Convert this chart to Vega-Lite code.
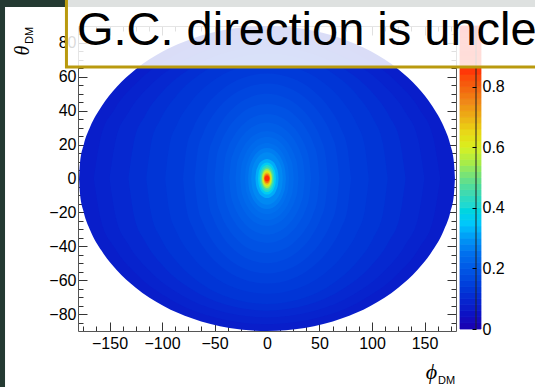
{
  "$schema": "https://vega.github.io/schema/vega-lite/v6.json",
  "width": 378,
  "height": 305,
  "autosize": {"type": "none"},
  "padding": {"left": 78, "top": 26, "right": 79, "bottom": 56},
  "background": "white",
  "config": {
    "view": {"stroke": null},
    "axis": {
      "grid": false,
      "domainColor": "#555555",
      "domainWidth": 1,
      "tickColor": "#333333",
      "tickWidth": 1,
      "labelFont": "Liberation Sans",
      "labelFontSize": 16,
      "labelColor": "#000000",
      "titleFontWeight": "normal",
      "titleColor": "#000000",
      "labelOverlap": false,
      "labelFlush": false
    }
  },
  "resolve": {"scale": {"y": "independent"}, "axis": {"x": "independent", "y": "independent"}},
  "layer": [
    {
      "data": {"values": [{}]},
      "mark": {"type": "rect", "fill": "#243a32"},
      "encoding": {
        "x": {"datum": -283, "type": "quantitative", "scale": {"domain": [-180, 180], "nice": false, "zero": false}, "axis": null},
        "x2": {"datum": -249.5},
        "y": {"datum": 125, "type": "quantitative", "scale": {"domain": [-90, 90], "nice": false, "zero": false}, "axis": null},
        "y2": {"datum": -143}
      }
    },
    {
      "data": {"values": [{}]},
      "mark": {"type": "rect", "fill": "#243a32"},
      "encoding": {
        "x": {"datum": -283, "type": "quantitative", "scale": {"domain": [-180, 180], "nice": false, "zero": false}, "axis": null},
        "x2": {"datum": 280},
        "y": {"datum": 101.2, "type": "quantitative", "scale": {"domain": [-90, 90], "nice": false, "zero": false}, "axis": null},
        "y2": {"datum": 125}
      }
    },
    {
      "data": {"values": [
        {"k":"K01","v":0.075,"p":-179,"hi":0,"lo":0},
        {"k":"K01","v":0.075,"p":-178.1,"hi":9,"lo":-9},
        {"k":"K01","v":0.075,"p":-174.5,"hi":20,"lo":-20},
        {"k":"K01","v":0.075,"p":-168.3,"hi":30.7,"lo":-30.7},
        {"k":"K01","v":0.075,"p":-157.5,"hi":42.7,"lo":-42.7},
        {"k":"K01","v":0.075,"p":-143.2,"hi":54,"lo":-54},
        {"k":"K01","v":0.075,"p":-125.3,"hi":64.3,"lo":-64.3},
        {"k":"K01","v":0.075,"p":-98.5,"hi":75.2,"lo":-75.2},
        {"k":"K01","v":0.075,"p":-71.6,"hi":82.5,"lo":-82.5},
        {"k":"K01","v":0.075,"p":-35.8,"hi":88.2,"lo":-88.2},
        {"k":"K01","v":0.075,"p":0,"hi":90,"lo":-90},
        {"k":"K01","v":0.075,"p":35.8,"hi":88.2,"lo":-88.2},
        {"k":"K01","v":0.075,"p":71.6,"hi":82.5,"lo":-82.5},
        {"k":"K01","v":0.075,"p":98.5,"hi":75.2,"lo":-75.2},
        {"k":"K01","v":0.075,"p":125.3,"hi":64.3,"lo":-64.3},
        {"k":"K01","v":0.075,"p":143.2,"hi":54,"lo":-54},
        {"k":"K01","v":0.075,"p":157.5,"hi":42.7,"lo":-42.7},
        {"k":"K01","v":0.075,"p":168.3,"hi":30.7,"lo":-30.7},
        {"k":"K01","v":0.075,"p":174.5,"hi":20,"lo":-20},
        {"k":"K01","v":0.075,"p":178.1,"hi":9,"lo":-9},
        {"k":"K01","v":0.075,"p":179,"hi":0,"lo":0},

        {"k":"K02","v":0.0875,"p":-165,"hi":0,"lo":0},
        {"k":"K02","v":0.0875,"p":-158.4,"hi":24.1,"lo":-24.1},
        {"k":"K02","v":0.0875,"p":-145.2,"hi":40.9,"lo":-40.9},
        {"k":"K02","v":0.0875,"p":-123.75,"hi":56.8,"lo":-56.8},
        {"k":"K02","v":0.0875,"p":-90.75,"hi":71.8,"lo":-71.8},
        {"k":"K02","v":0.0875,"p":-49.5,"hi":82,"lo":-82},
        {"k":"K02","v":0.0875,"p":0,"hi":86,"lo":-86},
        {"k":"K02","v":0.0875,"p":49.5,"hi":82,"lo":-82},
        {"k":"K02","v":0.0875,"p":90.75,"hi":71.8,"lo":-71.8},
        {"k":"K02","v":0.0875,"p":123.75,"hi":56.8,"lo":-56.8},
        {"k":"K02","v":0.0875,"p":145.2,"hi":40.9,"lo":-40.9},
        {"k":"K02","v":0.0875,"p":158.4,"hi":24.1,"lo":-24.1},
        {"k":"K02","v":0.0875,"p":165,"hi":0,"lo":0},

        {"k":"K03","v":0.1,"p":-150,"hi":0,"lo":0},
        {"k":"K03","v":0.1,"p":-144,"hi":23,"lo":-23},
        {"k":"K03","v":0.1,"p":-132,"hi":39,"lo":-39},
        {"k":"K03","v":0.1,"p":-112.5,"hi":54.2,"lo":-54.2},
        {"k":"K03","v":0.1,"p":-82.5,"hi":68.5,"lo":-68.5},
        {"k":"K03","v":0.1,"p":-45,"hi":78.2,"lo":-78.2},
        {"k":"K03","v":0.1,"p":0,"hi":82,"lo":-82},
        {"k":"K03","v":0.1,"p":45,"hi":78.2,"lo":-78.2},
        {"k":"K03","v":0.1,"p":82.5,"hi":68.5,"lo":-68.5},
        {"k":"K03","v":0.1,"p":112.5,"hi":54.2,"lo":-54.2},
        {"k":"K03","v":0.1,"p":132,"hi":39,"lo":-39},
        {"k":"K03","v":0.1,"p":144,"hi":23,"lo":-23},
        {"k":"K03","v":0.1,"p":150,"hi":0,"lo":0},

        {"k":"K04","v":0.1125,"p":-132,"hi":0,"lo":0},
        {"k":"K04","v":0.1125,"p":-126.7,"hi":21.8,"lo":-21.8},
        {"k":"K04","v":0.1125,"p":-116.2,"hi":37.1,"lo":-37.1},
        {"k":"K04","v":0.1125,"p":-99,"hi":51.6,"lo":-51.6},
        {"k":"K04","v":0.1125,"p":-72.6,"hi":65.1,"lo":-65.1},
        {"k":"K04","v":0.1125,"p":-39.6,"hi":74.4,"lo":-74.4},
        {"k":"K04","v":0.1125,"p":0,"hi":78,"lo":-78},
        {"k":"K04","v":0.1125,"p":39.6,"hi":74.4,"lo":-74.4},
        {"k":"K04","v":0.1125,"p":72.6,"hi":65.1,"lo":-65.1},
        {"k":"K04","v":0.1125,"p":99,"hi":51.6,"lo":-51.6},
        {"k":"K04","v":0.1125,"p":116.2,"hi":37.1,"lo":-37.1},
        {"k":"K04","v":0.1125,"p":126.7,"hi":21.8,"lo":-21.8},
        {"k":"K04","v":0.1125,"p":132,"hi":0,"lo":0},

        {"k":"K05","v":0.125,"p":-115,"hi":0,"lo":0},
        {"k":"K05","v":0.125,"p":-110.4,"hi":20.7,"lo":-20.7},
        {"k":"K05","v":0.125,"p":-101.2,"hi":35.2,"lo":-35.2},
        {"k":"K05","v":0.125,"p":-86.3,"hi":48.9,"lo":-48.9},
        {"k":"K05","v":0.125,"p":-63.3,"hi":61.8,"lo":-61.8},
        {"k":"K05","v":0.125,"p":-34.5,"hi":70.6,"lo":-70.6},
        {"k":"K05","v":0.125,"p":0,"hi":74,"lo":-74},
        {"k":"K05","v":0.125,"p":34.5,"hi":70.6,"lo":-70.6},
        {"k":"K05","v":0.125,"p":63.3,"hi":61.8,"lo":-61.8},
        {"k":"K05","v":0.125,"p":86.3,"hi":48.9,"lo":-48.9},
        {"k":"K05","v":0.125,"p":101.2,"hi":35.2,"lo":-35.2},
        {"k":"K05","v":0.125,"p":110.4,"hi":20.7,"lo":-20.7},
        {"k":"K05","v":0.125,"p":115,"hi":0,"lo":0},

        {"k":"K06","v":0.1375,"p":-97,"hi":0,"lo":0},
        {"k":"K06","v":0.1375,"p":-93.1,"hi":19,"lo":-19},
        {"k":"K06","v":0.1375,"p":-85.4,"hi":32.3,"lo":-32.3},
        {"k":"K06","v":0.1375,"p":-72.75,"hi":44.9,"lo":-44.9},
        {"k":"K06","v":0.1375,"p":-53.35,"hi":56.8,"lo":-56.8},
        {"k":"K06","v":0.1375,"p":-29.1,"hi":64.9,"lo":-64.9},
        {"k":"K06","v":0.1375,"p":0,"hi":68,"lo":-68},
        {"k":"K06","v":0.1375,"p":29.1,"hi":64.9,"lo":-64.9},
        {"k":"K06","v":0.1375,"p":53.35,"hi":56.8,"lo":-56.8},
        {"k":"K06","v":0.1375,"p":72.75,"hi":44.9,"lo":-44.9},
        {"k":"K06","v":0.1375,"p":85.4,"hi":32.3,"lo":-32.3},
        {"k":"K06","v":0.1375,"p":93.1,"hi":19,"lo":-19},
        {"k":"K06","v":0.1375,"p":97,"hi":0,"lo":0},

        {"k":"K07","v":0.15,"p":-80,"hi":0,"lo":0},
        {"k":"K07","v":0.15,"p":-76.8,"hi":17.4,"lo":-17.4},
        {"k":"K07","v":0.15,"p":-70.4,"hi":29.5,"lo":-29.5},
        {"k":"K07","v":0.15,"p":-60,"hi":41,"lo":-41},
        {"k":"K07","v":0.15,"p":-44,"hi":51.8,"lo":-51.8},
        {"k":"K07","v":0.15,"p":-24,"hi":59.1,"lo":-59.1},
        {"k":"K07","v":0.15,"p":0,"hi":62,"lo":-62},
        {"k":"K07","v":0.15,"p":24,"hi":59.1,"lo":-59.1},
        {"k":"K07","v":0.15,"p":44,"hi":51.8,"lo":-51.8},
        {"k":"K07","v":0.15,"p":60,"hi":41,"lo":-41},
        {"k":"K07","v":0.15,"p":70.4,"hi":29.5,"lo":-29.5},
        {"k":"K07","v":0.15,"p":76.8,"hi":17.4,"lo":-17.4},
        {"k":"K07","v":0.15,"p":80,"hi":0,"lo":0},

        {"k":"K08","v":0.1625,"p":-69,"hi":0,"lo":0},
        {"k":"K08","v":0.1625,"p":-66.2,"hi":15.7,"lo":-15.7},
        {"k":"K08","v":0.1625,"p":-60.7,"hi":26.6,"lo":-26.6},
        {"k":"K08","v":0.1625,"p":-51.75,"hi":37,"lo":-37},
        {"k":"K08","v":0.1625,"p":-37.95,"hi":46.8,"lo":-46.8},
        {"k":"K08","v":0.1625,"p":-20.7,"hi":53.4,"lo":-53.4},
        {"k":"K08","v":0.1625,"p":0,"hi":56,"lo":-56},
        {"k":"K08","v":0.1625,"p":20.7,"hi":53.4,"lo":-53.4},
        {"k":"K08","v":0.1625,"p":37.95,"hi":46.8,"lo":-46.8},
        {"k":"K08","v":0.1625,"p":51.75,"hi":37,"lo":-37},
        {"k":"K08","v":0.1625,"p":60.7,"hi":26.6,"lo":-26.6},
        {"k":"K08","v":0.1625,"p":66.2,"hi":15.7,"lo":-15.7},
        {"k":"K08","v":0.1625,"p":69,"hi":0,"lo":0},

        {"k":"K09","v":0.175,"p":-58,"hi":0,"lo":0},
        {"k":"K09","v":0.175,"p":-55.7,"hi":14,"lo":-14},
        {"k":"K09","v":0.175,"p":-51,"hi":23.8,"lo":-23.8},
        {"k":"K09","v":0.175,"p":-43.5,"hi":33.1,"lo":-33.1},
        {"k":"K09","v":0.175,"p":-31.9,"hi":41.8,"lo":-41.8},
        {"k":"K09","v":0.175,"p":-17.4,"hi":47.7,"lo":-47.7},
        {"k":"K09","v":0.175,"p":0,"hi":50,"lo":-50},
        {"k":"K09","v":0.175,"p":17.4,"hi":47.7,"lo":-47.7},
        {"k":"K09","v":0.175,"p":31.9,"hi":41.8,"lo":-41.8},
        {"k":"K09","v":0.175,"p":43.5,"hi":33.1,"lo":-33.1},
        {"k":"K09","v":0.175,"p":51,"hi":23.8,"lo":-23.8},
        {"k":"K09","v":0.175,"p":55.7,"hi":14,"lo":-14},
        {"k":"K09","v":0.175,"p":58,"hi":0,"lo":0},

        {"k":"K10","v":0.1875,"p":-50,"hi":0,"lo":0},
        {"k":"K10","v":0.1875,"p":-48,"hi":12.3,"lo":-12.3},
        {"k":"K10","v":0.1875,"p":-44,"hi":20.9,"lo":-20.9},
        {"k":"K10","v":0.1875,"p":-37.5,"hi":29.1,"lo":-29.1},
        {"k":"K10","v":0.1875,"p":-27.5,"hi":36.7,"lo":-36.7},
        {"k":"K10","v":0.1875,"p":-15,"hi":42,"lo":-42},
        {"k":"K10","v":0.1875,"p":0,"hi":44,"lo":-44},
        {"k":"K10","v":0.1875,"p":15,"hi":42,"lo":-42},
        {"k":"K10","v":0.1875,"p":27.5,"hi":36.7,"lo":-36.7},
        {"k":"K10","v":0.1875,"p":37.5,"hi":29.1,"lo":-29.1},
        {"k":"K10","v":0.1875,"p":44,"hi":20.9,"lo":-20.9},
        {"k":"K10","v":0.1875,"p":48,"hi":12.3,"lo":-12.3},
        {"k":"K10","v":0.1875,"p":50,"hi":0,"lo":0},

        {"k":"K11","v":0.2,"p":-42,"hi":0,"lo":0},
        {"k":"K11","v":0.2,"p":-40.3,"hi":10.6,"lo":-10.6},
        {"k":"K11","v":0.2,"p":-37,"hi":18.1,"lo":-18.1},
        {"k":"K11","v":0.2,"p":-31.5,"hi":25.1,"lo":-25.1},
        {"k":"K11","v":0.2,"p":-23.1,"hi":31.7,"lo":-31.7},
        {"k":"K11","v":0.2,"p":-12.6,"hi":36.3,"lo":-36.3},
        {"k":"K11","v":0.2,"p":0,"hi":38,"lo":-38},
        {"k":"K11","v":0.2,"p":12.6,"hi":36.3,"lo":-36.3},
        {"k":"K11","v":0.2,"p":23.1,"hi":31.7,"lo":-31.7},
        {"k":"K11","v":0.2,"p":31.5,"hi":25.1,"lo":-25.1},
        {"k":"K11","v":0.2,"p":37,"hi":18.1,"lo":-18.1},
        {"k":"K11","v":0.2,"p":40.3,"hi":10.6,"lo":-10.6},
        {"k":"K11","v":0.2,"p":42,"hi":0,"lo":0},

        {"k":"K12","v":0.2125,"p":-36,"hi":0,"lo":0},
        {"k":"K12","v":0.2125,"p":-34.6,"hi":9.2,"lo":-9.2},
        {"k":"K12","v":0.2125,"p":-31.7,"hi":15.7,"lo":-15.7},
        {"k":"K12","v":0.2125,"p":-27,"hi":21.8,"lo":-21.8},
        {"k":"K12","v":0.2125,"p":-19.8,"hi":27.6,"lo":-27.6},
        {"k":"K12","v":0.2125,"p":-10.8,"hi":31.5,"lo":-31.5},
        {"k":"K12","v":0.2125,"p":0,"hi":33,"lo":-33},
        {"k":"K12","v":0.2125,"p":10.8,"hi":31.5,"lo":-31.5},
        {"k":"K12","v":0.2125,"p":19.8,"hi":27.6,"lo":-27.6},
        {"k":"K12","v":0.2125,"p":27,"hi":21.8,"lo":-21.8},
        {"k":"K12","v":0.2125,"p":31.7,"hi":15.7,"lo":-15.7},
        {"k":"K12","v":0.2125,"p":34.6,"hi":9.2,"lo":-9.2},
        {"k":"K12","v":0.2125,"p":36,"hi":0,"lo":0},

        {"k":"K13","v":0.225,"p":-30,"hi":0,"lo":0},
        {"k":"K13","v":0.225,"p":-28.8,"hi":7.8,"lo":-7.8},
        {"k":"K13","v":0.225,"p":-26.4,"hi":13.3,"lo":-13.3},
        {"k":"K13","v":0.225,"p":-22.5,"hi":18.5,"lo":-18.5},
        {"k":"K13","v":0.225,"p":-16.5,"hi":23.4,"lo":-23.4},
        {"k":"K13","v":0.225,"p":-9,"hi":26.7,"lo":-26.7},
        {"k":"K13","v":0.225,"p":0,"hi":28,"lo":-28},
        {"k":"K13","v":0.225,"p":9,"hi":26.7,"lo":-26.7},
        {"k":"K13","v":0.225,"p":16.5,"hi":23.4,"lo":-23.4},
        {"k":"K13","v":0.225,"p":22.5,"hi":18.5,"lo":-18.5},
        {"k":"K13","v":0.225,"p":26.4,"hi":13.3,"lo":-13.3},
        {"k":"K13","v":0.225,"p":28.8,"hi":7.8,"lo":-7.8},
        {"k":"K13","v":0.225,"p":30,"hi":0,"lo":0},

        {"k":"K14","v":0.2375,"p":-25.5,"hi":0,"lo":0},
        {"k":"K14","v":0.2375,"p":-24.5,"hi":6.9,"lo":-6.9},
        {"k":"K14","v":0.2375,"p":-22.4,"hi":11.6,"lo":-11.6},
        {"k":"K14","v":0.2375,"p":-19.1,"hi":16.2,"lo":-16.2},
        {"k":"K14","v":0.2375,"p":-14,"hi":20.5,"lo":-20.5},
        {"k":"K14","v":0.2375,"p":-7.65,"hi":23.4,"lo":-23.4},
        {"k":"K14","v":0.2375,"p":0,"hi":24.5,"lo":-24.5},
        {"k":"K14","v":0.2375,"p":7.65,"hi":23.4,"lo":-23.4},
        {"k":"K14","v":0.2375,"p":14,"hi":20.5,"lo":-20.5},
        {"k":"K14","v":0.2375,"p":19.1,"hi":16.2,"lo":-16.2},
        {"k":"K14","v":0.2375,"p":22.4,"hi":11.6,"lo":-11.6},
        {"k":"K14","v":0.2375,"p":24.5,"hi":6.9,"lo":-6.9},
        {"k":"K14","v":0.2375,"p":25.5,"hi":0,"lo":0},

        {"k":"K15","v":0.25,"p":-21,"hi":0,"lo":0},
        {"k":"K15","v":0.25,"p":-20.2,"hi":5.9,"lo":-5.9},
        {"k":"K15","v":0.25,"p":-18.5,"hi":10,"lo":-10},
        {"k":"K15","v":0.25,"p":-15.8,"hi":13.9,"lo":-13.9},
        {"k":"K15","v":0.25,"p":-11.6,"hi":17.5,"lo":-17.5},
        {"k":"K15","v":0.25,"p":-6.3,"hi":20,"lo":-20},
        {"k":"K15","v":0.25,"p":0,"hi":21,"lo":-21},
        {"k":"K15","v":0.25,"p":6.3,"hi":20,"lo":-20},
        {"k":"K15","v":0.25,"p":11.6,"hi":17.5,"lo":-17.5},
        {"k":"K15","v":0.25,"p":15.8,"hi":13.9,"lo":-13.9},
        {"k":"K15","v":0.25,"p":18.5,"hi":10,"lo":-10},
        {"k":"K15","v":0.25,"p":20.2,"hi":5.9,"lo":-5.9},
        {"k":"K15","v":0.25,"p":21,"hi":0,"lo":0},

        {"k":"K16","v":0.265,"p":-18,"hi":0,"lo":0},
        {"k":"K16","v":0.265,"p":-17.3,"hi":5,"lo":-5},
        {"k":"K16","v":0.265,"p":-15.8,"hi":8.6,"lo":-8.6},
        {"k":"K16","v":0.265,"p":-13.5,"hi":11.9,"lo":-11.9},
        {"k":"K16","v":0.265,"p":-9.9,"hi":15,"lo":-15},
        {"k":"K16","v":0.265,"p":-5.4,"hi":17.2,"lo":-17.2},
        {"k":"K16","v":0.265,"p":0,"hi":18,"lo":-18},
        {"k":"K16","v":0.265,"p":5.4,"hi":17.2,"lo":-17.2},
        {"k":"K16","v":0.265,"p":9.9,"hi":15,"lo":-15},
        {"k":"K16","v":0.265,"p":13.5,"hi":11.9,"lo":-11.9},
        {"k":"K16","v":0.265,"p":15.8,"hi":8.6,"lo":-8.6},
        {"k":"K16","v":0.265,"p":17.3,"hi":5,"lo":-5},
        {"k":"K16","v":0.265,"p":18,"hi":0,"lo":0},

        {"k":"K17","v":0.28,"p":-15,"hi":0,"lo":0},
        {"k":"K17","v":0.28,"p":-14.4,"hi":4.3,"lo":-4.3},
        {"k":"K17","v":0.28,"p":-13.2,"hi":7.4,"lo":-7.4},
        {"k":"K17","v":0.28,"p":-11.3,"hi":10.2,"lo":-10.2},
        {"k":"K17","v":0.28,"p":-8.3,"hi":12.9,"lo":-12.9},
        {"k":"K17","v":0.28,"p":-4.5,"hi":14.8,"lo":-14.8},
        {"k":"K17","v":0.28,"p":0,"hi":15.5,"lo":-15.5},
        {"k":"K17","v":0.28,"p":4.5,"hi":14.8,"lo":-14.8},
        {"k":"K17","v":0.28,"p":8.3,"hi":12.9,"lo":-12.9},
        {"k":"K17","v":0.28,"p":11.3,"hi":10.2,"lo":-10.2},
        {"k":"K17","v":0.28,"p":13.2,"hi":7.4,"lo":-7.4},
        {"k":"K17","v":0.28,"p":14.4,"hi":4.3,"lo":-4.3},
        {"k":"K17","v":0.28,"p":15,"hi":0,"lo":0},

        {"k":"K18","v":0.32,"p":-11,"hi":0,"lo":0},
        {"k":"K18","v":0.32,"p":-10.45,"hi":3.6,"lo":-3.6},
        {"k":"K18","v":0.32,"p":-8.8,"hi":6.9,"lo":-6.9},
        {"k":"K18","v":0.32,"p":-5.5,"hi":10,"lo":-10},
        {"k":"K18","v":0.32,"p":0,"hi":11.5,"lo":-11.5},
        {"k":"K18","v":0.32,"p":5.5,"hi":10,"lo":-10},
        {"k":"K18","v":0.32,"p":8.8,"hi":6.9,"lo":-6.9},
        {"k":"K18","v":0.32,"p":10.45,"hi":3.6,"lo":-3.6},
        {"k":"K18","v":0.32,"p":11,"hi":0,"lo":0},

        {"k":"K19","v":0.36,"p":-8.5,"hi":0,"lo":0},
        {"k":"K19","v":0.36,"p":-8.1,"hi":3,"lo":-3},
        {"k":"K19","v":0.36,"p":-6.8,"hi":5.7,"lo":-5.7},
        {"k":"K19","v":0.36,"p":-4.25,"hi":8.2,"lo":-8.2},
        {"k":"K19","v":0.36,"p":0,"hi":9.5,"lo":-9.5},
        {"k":"K19","v":0.36,"p":4.25,"hi":8.2,"lo":-8.2},
        {"k":"K19","v":0.36,"p":6.8,"hi":5.7,"lo":-5.7},
        {"k":"K19","v":0.36,"p":8.1,"hi":3,"lo":-3},
        {"k":"K19","v":0.36,"p":8.5,"hi":0,"lo":0},

        {"k":"K20","v":0.42,"p":-7,"hi":0,"lo":0},
        {"k":"K20","v":0.42,"p":-6.65,"hi":2.5,"lo":-2.5},
        {"k":"K20","v":0.42,"p":-5.6,"hi":4.8,"lo":-4.8},
        {"k":"K20","v":0.42,"p":-3.5,"hi":6.9,"lo":-6.9},
        {"k":"K20","v":0.42,"p":0,"hi":8,"lo":-8},
        {"k":"K20","v":0.42,"p":3.5,"hi":6.9,"lo":-6.9},
        {"k":"K20","v":0.42,"p":5.6,"hi":4.8,"lo":-4.8},
        {"k":"K20","v":0.42,"p":6.65,"hi":2.5,"lo":-2.5},
        {"k":"K20","v":0.42,"p":7,"hi":0,"lo":0},

        {"k":"K21","v":0.48,"p":-5.8,"hi":0,"lo":0},
        {"k":"K21","v":0.48,"p":-5.5,"hi":2.1,"lo":-2.1},
        {"k":"K21","v":0.48,"p":-4.6,"hi":4,"lo":-4},
        {"k":"K21","v":0.48,"p":-2.9,"hi":5.7,"lo":-5.7},
        {"k":"K21","v":0.48,"p":0,"hi":6.6,"lo":-6.6},
        {"k":"K21","v":0.48,"p":2.9,"hi":5.7,"lo":-5.7},
        {"k":"K21","v":0.48,"p":4.6,"hi":4,"lo":-4},
        {"k":"K21","v":0.48,"p":5.5,"hi":2.1,"lo":-2.1},
        {"k":"K21","v":0.48,"p":5.8,"hi":0,"lo":0},

        {"k":"K22","v":0.55,"p":-4.8,"hi":0,"lo":0},
        {"k":"K22","v":0.55,"p":-4.6,"hi":1.7,"lo":-1.7},
        {"k":"K22","v":0.55,"p":-3.8,"hi":3.4,"lo":-3.4},
        {"k":"K22","v":0.55,"p":-2.4,"hi":4.8,"lo":-4.8},
        {"k":"K22","v":0.55,"p":0,"hi":5.6,"lo":-5.6},
        {"k":"K22","v":0.55,"p":2.4,"hi":4.8,"lo":-4.8},
        {"k":"K22","v":0.55,"p":3.8,"hi":3.4,"lo":-3.4},
        {"k":"K22","v":0.55,"p":4.6,"hi":1.7,"lo":-1.7},
        {"k":"K22","v":0.55,"p":4.8,"hi":0,"lo":0},

        {"k":"K23","v":0.62,"p":-4,"hi":0,"lo":0},
        {"k":"K23","v":0.62,"p":-3.8,"hi":1.4,"lo":-1.4},
        {"k":"K23","v":0.62,"p":-3.2,"hi":2.8,"lo":-2.8},
        {"k":"K23","v":0.62,"p":-2,"hi":4,"lo":-4},
        {"k":"K23","v":0.62,"p":0,"hi":4.6,"lo":-4.6},
        {"k":"K23","v":0.62,"p":2,"hi":4,"lo":-4},
        {"k":"K23","v":0.62,"p":3.2,"hi":2.8,"lo":-2.8},
        {"k":"K23","v":0.62,"p":3.8,"hi":1.4,"lo":-1.4},
        {"k":"K23","v":0.62,"p":4,"hi":0,"lo":0},

        {"k":"K24","v":0.7,"p":-3.3,"hi":0,"lo":0},
        {"k":"K24","v":0.7,"p":-3.1,"hi":1.1,"lo":-1.1},
        {"k":"K24","v":0.7,"p":-2.6,"hi":2.2,"lo":-2.2},
        {"k":"K24","v":0.7,"p":-1.65,"hi":3.1,"lo":-3.1},
        {"k":"K24","v":0.7,"p":0,"hi":3.6,"lo":-3.6},
        {"k":"K24","v":0.7,"p":1.65,"hi":3.1,"lo":-3.1},
        {"k":"K24","v":0.7,"p":2.6,"hi":2.2,"lo":-2.2},
        {"k":"K24","v":0.7,"p":3.1,"hi":1.1,"lo":-1.1},
        {"k":"K24","v":0.7,"p":3.3,"hi":0,"lo":0},

        {"k":"K25","v":0.78,"p":-2.8,"hi":0,"lo":0},
        {"k":"K25","v":0.78,"p":-2.7,"hi":0.8,"lo":-0.8},
        {"k":"K25","v":0.78,"p":-2.2,"hi":1.6,"lo":-1.6},
        {"k":"K25","v":0.78,"p":-1.4,"hi":2.3,"lo":-2.3},
        {"k":"K25","v":0.78,"p":0,"hi":2.6,"lo":-2.6},
        {"k":"K25","v":0.78,"p":1.4,"hi":2.3,"lo":-2.3},
        {"k":"K25","v":0.78,"p":2.2,"hi":1.6,"lo":-1.6},
        {"k":"K25","v":0.78,"p":2.7,"hi":0.8,"lo":-0.8},
        {"k":"K25","v":0.78,"p":2.8,"hi":0,"lo":0},

        {"k":"K26","v":0.88,"p":-2.3,"hi":0,"lo":0},
        {"k":"K26","v":0.88,"p":-2.2,"hi":0.5,"lo":-0.5},
        {"k":"K26","v":0.88,"p":-1.8,"hi":1,"lo":-1},
        {"k":"K26","v":0.88,"p":-1.15,"hi":1.5,"lo":-1.5},
        {"k":"K26","v":0.88,"p":0,"hi":1.7,"lo":-1.7},
        {"k":"K26","v":0.88,"p":1.15,"hi":1.5,"lo":-1.5},
        {"k":"K26","v":0.88,"p":1.8,"hi":1,"lo":-1},
        {"k":"K26","v":0.88,"p":2.2,"hi":0.5,"lo":-0.5},
        {"k":"K26","v":0.88,"p":2.3,"hi":0,"lo":0}
      ]},
      "mark": {"type": "area", "interpolate": "monotone", "orient": "vertical"},
      "encoding": {
        "x": {
          "field": "p", "type": "quantitative",
          "scale": {"domain": [-180, 180], "nice": false, "zero": false},
          "axis": {
            "orient": "bottom",
            "values": [-175,-162.5,-150,-137.5,-125,-112.5,-100,-87.5,-75,-62.5,-50,-37.5,-25,-12.5,0,12.5,25,37.5,50,62.5,75,87.5,100,112.5,125,137.5,150,162.5,175],
            "labelExpr": "datum.value % 50 === 0 ? datum.label : ''",
            "tickSize": {"condition": {"test": "datum.value % 50 === 0", "value": -9}, "value": -5},
            "labelPadding": 13,
            "title": "ϕ",
            "titleFont": "Liberation Serif",
            "titleFontStyle": "italic",
            "titleFontSize": 22,
            "titleX": 353,
            "titleY": 40,
            "titleAlign": "center",
            "titleBaseline": "middle"
          }
        },
        "y": {
          "field": "hi", "type": "quantitative",
          "scale": {"domain": [-90, 90], "nice": false, "zero": false},
          "axis": {
            "orient": "left",
            "values": [-85,-80,-75,-70,-65,-60,-55,-50,-45,-40,-35,-30,-25,-20,-15,-10,-5,0,5,10,15,20,25,30,35,40,45,50,55,60,65,70,75,80,85],
            "labelExpr": "datum.value % 20 === 0 ? datum.label : ''",
            "tickSize": {"condition": {"test": "datum.value % 20 === 0", "value": -9}, "value": -5},
            "labelPadding": 11,
            "title": "θ",
            "titleFont": "Liberation Serif",
            "titleFontStyle": "italic",
            "titleFontSize": 20,
            "titleAngle": 270,
            "titleX": -56,
            "titleY": 24,
            "titleAlign": "center",
            "titleBaseline": "middle"
          }
        },
        "y2": {"field": "lo"},
        "color": {
          "field": "v", "type": "quantitative",
          "scale": {
            "domain": [0,0.05,0.1,0.15,0.2,0.25,0.3,0.35,0.4,0.45,0.5,0.55,0.6,0.65,0.7,0.75,0.8,0.85,0.9,1],
            "range": ["#1a00b0","#0c12c4","#0628d0","#0040dc","#0058e6","#0070ee","#0098f4","#00c8fa","#20d8d8","#40dab0","#70e080","#a8ec48","#d8f020","#e8d818","#ecb018","#f08818","#f46010","#ff3808","#ff2000","#ff0000"]
          },
          "legend": null
        },
        "detail": {"field": "k"}
      }
    },
    {
      "data": {"values": [
        {"z0":0,"z1":0.02,"zc":0.01},{"z0":0.02,"z1":0.04,"zc":0.03},{"z0":0.04,"z1":0.06,"zc":0.05},{"z0":0.06,"z1":0.08,"zc":0.07},{"z0":0.08,"z1":0.1,"zc":0.09},
        {"z0":0.1,"z1":0.12,"zc":0.11},{"z0":0.12,"z1":0.14,"zc":0.13},{"z0":0.14,"z1":0.16,"zc":0.15},{"z0":0.16,"z1":0.18,"zc":0.17},{"z0":0.18,"z1":0.2,"zc":0.19},
        {"z0":0.2,"z1":0.22,"zc":0.21},{"z0":0.22,"z1":0.24,"zc":0.23},{"z0":0.24,"z1":0.26,"zc":0.25},{"z0":0.26,"z1":0.28,"zc":0.27},{"z0":0.28,"z1":0.3,"zc":0.29},
        {"z0":0.3,"z1":0.32,"zc":0.31},{"z0":0.32,"z1":0.34,"zc":0.33},{"z0":0.34,"z1":0.36,"zc":0.35},{"z0":0.36,"z1":0.38,"zc":0.37},{"z0":0.38,"z1":0.4,"zc":0.39},
        {"z0":0.4,"z1":0.42,"zc":0.41},{"z0":0.42,"z1":0.44,"zc":0.43},{"z0":0.44,"z1":0.46,"zc":0.45},{"z0":0.46,"z1":0.48,"zc":0.47},{"z0":0.48,"z1":0.5,"zc":0.49},
        {"z0":0.5,"z1":0.52,"zc":0.51},{"z0":0.52,"z1":0.54,"zc":0.53},{"z0":0.54,"z1":0.56,"zc":0.55},{"z0":0.56,"z1":0.58,"zc":0.57},{"z0":0.58,"z1":0.6,"zc":0.59},
        {"z0":0.6,"z1":0.62,"zc":0.61},{"z0":0.62,"z1":0.64,"zc":0.63},{"z0":0.64,"z1":0.66,"zc":0.65},{"z0":0.66,"z1":0.68,"zc":0.67},{"z0":0.68,"z1":0.7,"zc":0.69},
        {"z0":0.7,"z1":0.72,"zc":0.71},{"z0":0.72,"z1":0.74,"zc":0.73},{"z0":0.74,"z1":0.76,"zc":0.75},{"z0":0.76,"z1":0.78,"zc":0.77},{"z0":0.78,"z1":0.8,"zc":0.79},
        {"z0":0.8,"z1":0.82,"zc":0.81},{"z0":0.82,"z1":0.84,"zc":0.83},{"z0":0.84,"z1":0.86,"zc":0.85},{"z0":0.86,"z1":0.88,"zc":0.87},{"z0":0.88,"z1":0.9,"zc":0.89},
        {"z0":0.9,"z1":0.92,"zc":0.91},{"z0":0.92,"z1":0.94,"zc":0.93},{"z0":0.94,"z1":0.96,"zc":0.95},{"z0":0.96,"z1":0.98,"zc":0.97},{"z0":0.98,"z1":1,"zc":0.99}
      ]},
      "mark": {"type": "rect", "strokeWidth": 0.8},
      "encoding": {
        "x": {"datum": 183.8, "type": "quantitative", "scale": {"domain": [-180, 180], "nice": false, "zero": false}, "axis": null},
        "x2": {"datum": 203.8},
        "y": {
          "field": "z0", "type": "quantitative",
          "scale": {"domain": [-0.0066, 1], "nice": false, "zero": false},
          "axis": {
            "orient": "right",
            "offset": 20,
            "values": [0, 0.2, 0.4, 0.6, 0.8],
            "format": "~g",
            "domain": false,
            "tickSize": -4,
            "tickColor": "#000000",
            "labelPadding": 10,
            "labelBaseline": "middle",
            "labelFont": "Liberation Sans",
            "labelFontSize": 16,
            "title": null,
            "zindex": 1
          }
        },
        "y2": {"field": "z1"},
        "color": {
          "field": "zc", "type": "quantitative",
          "scale": {
            "domain": [0,0.05,0.1,0.15,0.2,0.25,0.3,0.35,0.4,0.45,0.5,0.55,0.6,0.65,0.7,0.75,0.8,0.85,0.9,1],
            "range": ["#1a00b0","#0c12c4","#0628d0","#0040dc","#0058e6","#0070ee","#0098f4","#00c8fa","#20d8d8","#40dab0","#70e080","#a8ec48","#d8f020","#e8d818","#ecb018","#f08818","#f46010","#ff3808","#ff2000","#ff0000"]
          },
          "legend": null
        },
        "stroke": {
          "field": "zc", "type": "quantitative",
          "scale": {
            "domain": [0,0.05,0.1,0.15,0.2,0.25,0.3,0.35,0.4,0.45,0.5,0.55,0.6,0.65,0.7,0.75,0.8,0.85,0.9,1],
            "range": ["#1a00b0","#0c12c4","#0628d0","#0040dc","#0058e6","#0070ee","#0098f4","#00c8fa","#20d8d8","#40dab0","#70e080","#a8ec48","#d8f020","#e8d818","#ecb018","#f08818","#f46010","#ff3808","#ff2000","#ff0000"]
          },
          "legend": null
        }
      }
    },
    {
      "data": {"values": [{}]},
      "mark": {"type": "rule", "color": "#222222", "strokeWidth": 1},
      "encoding": {
        "x": {"datum": 199.05, "type": "quantitative", "scale": {"domain": [-180, 180], "nice": false, "zero": false}, "axis": null},
        "y": {"datum": 0, "type": "quantitative", "scale": {"domain": [-0.0066, 1], "nice": false, "zero": false}, "axis": null},
        "y2": {"datum": 1}
      }
    },
    {
      "data": {"values": [{}]},
      "mark": {"type": "rect", "fill": "#ffffff", "fillOpacity": 0.85, "stroke": "#b99a0e", "strokeWidth": 3},
      "encoding": {
        "x": {
          "datum": -191, "type": "quantitative",
          "scale": {"domain": [-180, 180], "nice": false, "zero": false},
          "axis": {
            "orient": "top",
            "values": [-175,-162.5,-150,-137.5,-125,-112.5,-100,-87.5,-75,-62.5,-50,-37.5,-25,-12.5,0,12.5,25,37.5,50,62.5,75,87.5,100,112.5,125,137.5,150,162.5,175],
            "labels": false,
            "tickSize": {"condition": {"test": "datum.value % 50 === 0", "value": -9}, "value": -5},
            "title": "DM",
            "titleFont": "Liberation Sans",
            "titleFontSize": 11,
            "titleX": 368,
            "titleY": 354,
            "titleAngle": 0,
            "titleAlign": "center",
            "titleBaseline": "middle"
          }
        },
        "x2": {"datum": 320},
        "y": {
          "datum": 65.8, "type": "quantitative",
          "scale": {"domain": [-90, 90], "nice": false, "zero": false},
          "axis": {
            "orient": "right",
            "values": [-85,-80,-75,-70,-65,-60,-55,-50,-45,-40,-35,-30,-25,-20,-15,-10,-5,0,5,10,15,20,25,30,35,40,45,50,55,60,65,70,75,80,85],
            "labels": false,
            "tickSize": {"condition": {"test": "datum.value % 20 === 0", "value": -9}, "value": -5},
            "title": "DM",
            "titleFont": "Liberation Sans",
            "titleFontSize": 11,
            "titleAngle": 270,
            "titleX": -427,
            "titleY": 9,
            "titleAlign": "center",
            "titleBaseline": "middle"
          }
        },
        "y2": {"datum": 125}
      }
    },
    {
      "data": {"values": [{}]},
      "mark": {"type": "text", "text": "G.C. direction is unclear", "font": "Liberation Sans", "fontSize": 47, "align": "left", "baseline": "alphabetic", "color": "#000000"},
      "encoding": {
        "x": {"datum": -181, "type": "quantitative", "scale": {"domain": [-180, 180], "nice": false, "zero": false}, "axis": null},
        "y": {"datum": 78.8, "type": "quantitative", "scale": {"domain": [-90, 90], "nice": false, "zero": false}, "axis": null}
      }
    }
  ]
}
